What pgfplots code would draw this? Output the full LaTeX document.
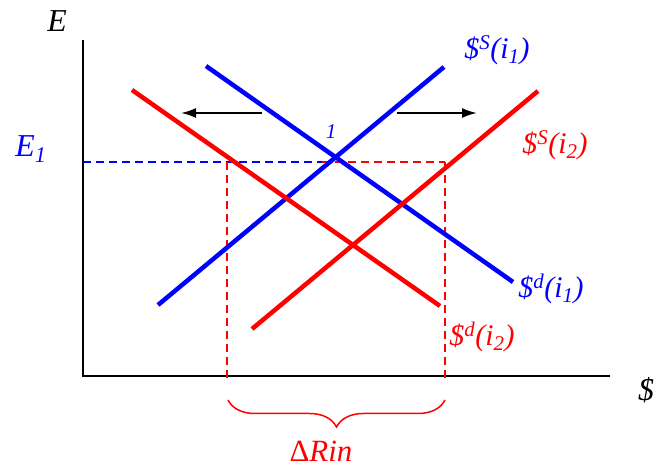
\documentclass[border=0pt]{standalone}
\usepackage{pgfplots}
\pgfplotsset{compat=1.18}
\usepackage{fontspec}
\setmainfont{Liberation Serif}
\usetikzlibrary{arrows.meta,decorations.pathreplacing}
\definecolor{myblue}{RGB}{0,0,255}
\definecolor{myred}{RGB}{255,0,0}
\begin{document}
\begin{tikzpicture}
\begin{axis}[
  scale only axis, width=654bp, height=469bp,
  xmin=0, xmax=654, ymin=0, ymax=469,
  hide axis, clip=false,
]
% axes
\addplot[black, line width=2bp, no marks] coordinates {(83,429) (83,93) (610,93)};
% dashed guides
\addplot[myblue, line width=1.5bp, dash pattern=on 8bp off 5bp, no marks] coordinates {(83,307) (330,307)};
\addplot[myred, line width=1.5bp, dash pattern=on 8bp off 5bp, no marks] coordinates {(322,307) (445,307)};
\addplot[myred, line width=1.5bp, dash pattern=on 8bp off 5bp, no marks] coordinates {(227,307) (227,90)};
\addplot[myred, line width=1.5bp, dash pattern=on 8bp off 5bp, no marks] coordinates {(445,307) (445,91)};
% curves
\addplot[myblue, line width=4.5bp, no marks] coordinates {(158,164) (444,402)};
\addplot[myblue, line width=4.5bp, no marks] coordinates {(206,403) (513,187)};
\addplot[myred, line width=4.5bp, no marks] coordinates {(132,379) (440,163)};
\addplot[myred, line width=4.5bp, no marks] coordinates {(252,140) (538,378)};
% arrows
\addplot[black, line width=2bp, no marks, -{Latex[length=15bp,width=10bp]}] coordinates {(262,356) (181,356)};
\addplot[black, line width=2bp, no marks, -{Latex[length=15bp,width=10bp]}] coordinates {(397,356) (477,356)};
% brace
\draw[myred, line width=1.5bp, decorate, decoration={brace, amplitude=27bp}] (axis cs:445,69) -- (axis cs:228,69);
% labels
\node[font=\fontsize{32}{36}\selectfont\itshape] at (axis cs:57,448) {E};
\node[myblue, font=\fontsize{32}{36}\selectfont\itshape] at (axis cs:31,320) {E\textsubscript{1}};
\node[font=\fontsize{32}{36}\selectfont\itshape] at (axis cs:646,79) {\$};
\node[myred, font=\fontsize{31}{36}\selectfont\itshape, anchor=base, inner sep=0pt] at (axis cs:321,8) {{\upshape Δ}Rin};
\node[myblue, font=\fontsize{21}{24}\selectfont\itshape] at (axis cs:331,337) {1};
\node[myblue, font=\fontsize{30}{34}\selectfont\itshape] at (axis cs:497,419) {\$\textsuperscript{S}(i\textsubscript{1})};
\node[myred, font=\fontsize{30}{34}\selectfont\itshape] at (axis cs:555,324) {\$\textsuperscript{S}(i\textsubscript{2})};
\node[myblue, font=\fontsize{30}{34}\selectfont\itshape] at (axis cs:551,180) {\$\textsuperscript{d}(i\textsubscript{1})};
\node[myred, font=\fontsize{30}{34}\selectfont\itshape] at (axis cs:482,132) {\$\textsuperscript{d}(i\textsubscript{2})};
\end{axis}
\pgfresetboundingbox
\path (current axis.south west) rectangle (current axis.north east);
\end{tikzpicture}
\end{document}
